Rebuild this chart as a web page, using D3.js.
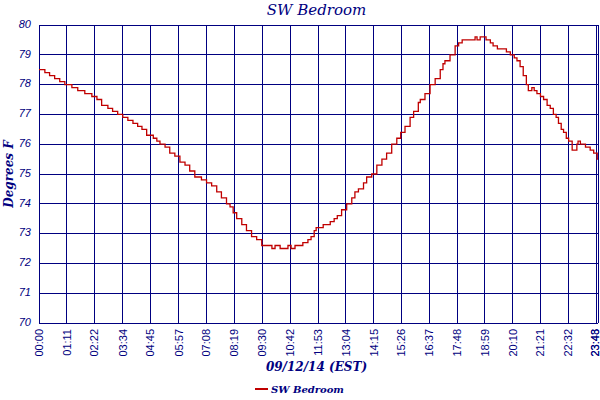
<!DOCTYPE html>
<html>
<head>
<meta charset="utf-8">
<script src="https://cdn.jsdelivr.net/npm/d3@7"></script>
<style>
  body { margin: 0; background: #fff; }
  svg { display: block; }
</style>
</head>
<body>
<div id="chart"></div>
<script>
// readings for the day, minutes after midnight and degrees F
const times = [0, 15, 27, 40, 53, 66, 84, 99, 117, 135, 148, 160, 176, 188, 201, 214, 227, 240, 252, 263,
  275, 283, 292, 301, 309, 322, 334, 347, 360, 373, 385, 398, 415, 428, 441, 454, 466, 479, 488, 496,
  505, 518, 530, 543, 556, 569, 582, 595, 603, 616, 628, 636, 644, 654, 674, 687, 695, 703, 708, 726,
  744, 754, 762, 773, 786, 799, 807, 816, 829, 837, 850, 863, 876, 888, 901, 914, 924, 935, 948, 957,
  969, 974, 986, 999, 1012, 1025, 1032, 1037, 1050, 1063, 1072, 1081, 1114, 1119, 1127, 1142, 1153, 1160, 1171, 1194,
  1204, 1214, 1221, 1229, 1237, 1245, 1250, 1259, 1265, 1272, 1281, 1289, 1298, 1306, 1314, 1321, 1327, 1334, 1340, 1347,
  1353, 1362, 1374, 1377, 1383, 1396, 1408, 1417, 1426, 1428];
const temps = [78.5, 78.4, 78.3, 78.2, 78.1, 78.0, 77.9, 77.8, 77.7, 77.6, 77.5, 77.3, 77.2, 77.1, 77.0, 76.9, 76.8, 76.7, 76.6, 76.5,
  76.3, 76.3, 76.2, 76.1, 76.0, 75.9, 75.7, 75.6, 75.4, 75.3, 75.1, 74.9, 74.8, 74.7, 74.6, 74.4, 74.2, 74.0, 73.9, 73.7,
  73.5, 73.3, 73.1, 72.9, 72.8, 72.6, 72.6, 72.5, 72.6, 72.5, 72.5, 72.6, 72.5, 72.6, 72.7, 72.8, 72.9, 73.1, 73.2, 73.3,
  73.4, 73.5, 73.6, 73.8, 74.0, 74.2, 74.4, 74.5, 74.7, 74.9, 75.0, 75.3, 75.5, 75.7, 76.0, 76.2, 76.4, 76.6, 76.9, 77.1,
  77.4, 77.5, 77.7, 78.0, 78.2, 78.5, 78.7, 78.8, 79.0, 79.3, 79.4, 79.5, 79.6, 79.5, 79.6, 79.5, 79.4, 79.3, 79.2, 79.1,
  79.0, 78.9, 78.8, 78.6, 78.3, 78.0, 77.8, 77.9, 77.8, 77.7, 77.6, 77.5, 77.3, 77.2, 77.0, 76.9, 76.7, 76.5, 76.4, 76.2,
  76.1, 75.8, 76.0, 76.1, 76.0, 75.9, 75.8, 75.7, 75.5, 75.5];

const xTickLabels = ["00:00", "01:11", "02:22", "03:34", "04:45", "05:57", "07:08", "08:19", "09:30", "10:42",
  "11:53", "13:04", "14:15", "15:26", "16:37", "17:48", "18:59", "20:10", "21:21", "22:32", "23:43", "23:48"];
const yTicks = [70, 71, 72, 73, 74, 75, 76, 77, 78, 79, 80];

const seriesName = "SW Bedroom";
const xTitle = "09/12/14 (EST)";
const yTitle = "Degrees F";

class StepChart {
    constructor(selector) {
        this.width = 600;
        this.height = 400;
        this.margin = { top: 25, right: 2, bottom: 77, left: 39 };
        this.navy = "#000080";

        this.svg = d3.select(selector).append("svg")
            .attr("width", this.width)
            .attr("height", this.height);

        this.data = times.map((t, i) => ({ t: t, v: temps[i] }));
        this.ticks = xTickLabels.map(s => {
            let p = s.split(":");
            return { label: s, t: +p[0] * 60 + +p[1] };
        });

        this.x = d3.scaleLinear([0, 1428],
            [this.margin.left, this.width - this.margin.right]);
        this.y = d3.scaleLinear([70, 80],
            [this.height - this.margin.bottom, this.margin.top]);

        this.draw();
    }

    draw() {
        let x = this.x, y = this.y, svg = this.svg;
        let x0 = x.range()[0], x1 = x.range()[1];
        let y0 = y.range()[0], y1 = y.range()[1];

        // grid
        let grid = svg.append("g")
            .attr("stroke", this.navy)
            .attr("stroke-width", 1)
            .attr("shape-rendering", "crispEdges");
        grid.selectAll("line.h")
            .data(yTicks)
            .enter().append("line")
            .classed("h", true)
            .attr("x1", x0).attr("x2", x1)
            .attr("y1", d => y(d)).attr("y2", d => y(d));
        grid.selectAll("line.v")
            .data(this.ticks)
            .enter().append("line")
            .classed("v", true)
            .attr("x1", d => x(d.t)).attr("x2", d => x(d.t))
            .attr("y1", y0).attr("y2", y1);

        // y tick labels
        svg.append("g")
            .selectAll("text")
            .data(yTicks)
            .enter().append("text")
            .attr("x", 31)
            .attr("y", d => y(d) - 1)
            .attr("dy", "0.35em")
            .attr("text-anchor", "end")
            .style("font", "italic 11px 'Liberation Sans', sans-serif")
            .style("fill", this.navy)
            .text(d => d);

        // x tick labels, rotated (the last two sit at the right edge, keep them inside)
        svg.append("g")
            .selectAll("text")
            .data(this.ticks)
            .enter().append("text")
            .attr("transform", d => "translate(" + Math.min(x(d.t), 595.5) + "," + (y0 + 6) + ") rotate(-90)")
            .attr("dy", "0.35em")
            .attr("text-anchor", "end")
            .style("font", "11px 'Liberation Sans', sans-serif")
            .style("fill", this.navy)
            .text(d => d.label);

        // the series
        let line = d3.line()
            .x(d => x(d.t))
            .y(d => y(d.v))
            .curve(d3.curveStepAfter);
        svg.append("path")
            .datum(this.data)
            .attr("d", line)
            .attr("fill", "none")
            .attr("stroke", "#c00000")
            .attr("stroke-width", 1.3);

        // titles
        let cx = (x0 + x1) / 2;
        svg.append("text")
            .attr("x", cx - 2).attr("y", 15)
            .attr("text-anchor", "middle")
            .style("font", "italic 15px 'DejaVu Serif', serif")
            .style("fill", this.navy)
            .text(seriesName);
        svg.append("text")
            .attr("x", cx - 2).attr("y", 371)
            .attr("text-anchor", "middle")
            .style("font", "italic bold 12px 'DejaVu Serif', serif")
            .style("fill", this.navy)
            .text(xTitle);
        svg.append("text")
            .attr("transform", "translate(13," + ((y0 + y1) / 2) + ") rotate(-90)")
            .attr("text-anchor", "middle")
            .style("font", "italic bold 12px 'DejaVu Serif', serif")
            .style("fill", this.navy)
            .text(yTitle);

        // legend
        let lg = svg.append("g").attr("transform", "translate(255,389)");
        lg.append("line")
            .attr("x1", 0).attr("x2", 13)
            .attr("stroke", "#c00000")
            .attr("stroke-width", 2);
        lg.append("text")
            .attr("x", 16).attr("y", 4)
            .style("font", "italic bold 10px 'DejaVu Serif', serif")
            .style("fill", this.navy)
            .text(seriesName);
    }
}

new StepChart("#chart");
</script>
</body>
</html>
